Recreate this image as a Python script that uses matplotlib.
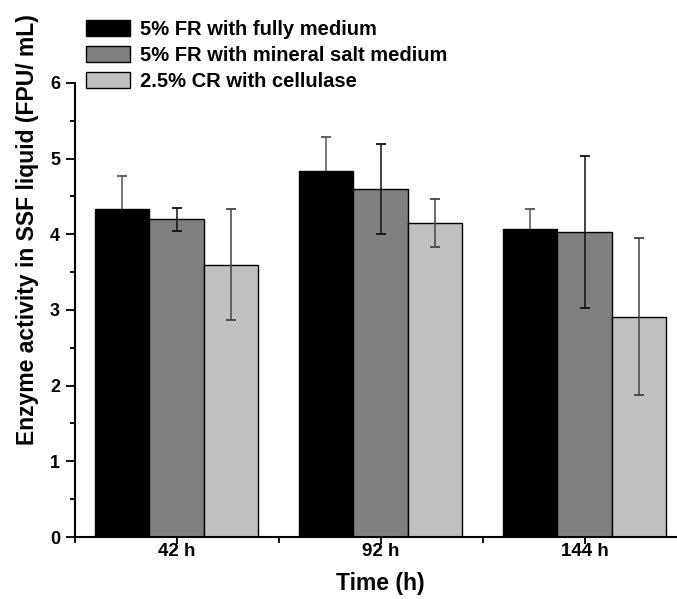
import matplotlib.pyplot as plt
import numpy as np
from matplotlib.ticker import MultipleLocator, FixedLocator

plt.rcParams["font.family"] = ["Liberation Sans", "DejaVu Sans"]
plt.rcParams["font.weight"] = "bold"

times = ["42 h", "92 h", "144 h"]
series = [
    "5% FR with fully medium",
    "5% FR with mineral salt medium",
    "2.5% CR with cellulase",
]
fully_mean = [4.34, 4.83, 4.07]
fully_err = [0.43, 0.46, 0.27]
mineral_mean = [4.20, 4.60, 4.03]
mineral_err = [0.15, 0.60, 1.01]
cellulase_mean = [3.60, 4.15, 2.91]
cellulase_err = [0.73, 0.32, 1.04]

means = [fully_mean, mineral_mean, cellulase_mean]
errs = [fully_err, mineral_err, cellulase_err]
colors = ["#000000", "#808080", "#c0c0c0"]
err_colors = ["#555555", "#111111", "#444444"]
# error bars of the black series sit behind their bars
err_z = [1, 3, 3]

fig = plt.figure(figsize=(6.77, 5.99), dpi=100)
ax = fig.add_axes([0.1103, 0.1035, 0.904, 0.758])

x = np.arange(1, len(times) + 1)
width = 0.8 / 3
for i in range(3):
    pos = x + (i - 1) * width
    ax.bar(pos, means[i], width, color=colors[i], edgecolor="black",
           linewidth=1.0, label=series[i], zorder=2)
    ax.errorbar(pos, means[i], yerr=errs[i], fmt="none", ecolor=err_colors[i],
                elinewidth=1.1, capsize=3.5, capthick=1.3, zorder=err_z[i])

ax.set_xlim(0.5, 3.5)
ax.set_ylim(0, 6)
ax.set_xticks(x)
ax.set_xticklabels(times, fontsize=13.5, fontweight="bold")
ax.xaxis.set_minor_locator(FixedLocator([0.5, 1.5, 2.5, 3.5]))
ax.yaxis.set_major_locator(MultipleLocator(1))
ax.yaxis.set_minor_locator(MultipleLocator(0.5))
for lab in ax.get_yticklabels():
    lab.set_fontsize(13)
    lab.set_fontweight("bold")

ax.tick_params(axis="y", which="major", direction="out", length=6.5,
               width=1.3, pad=4)
ax.tick_params(axis="y", which="minor", direction="out", length=3.6, width=1.3)
ax.tick_params(axis="x", which="major", direction="out", length=5,
               width=1.3, pad=-1)
ax.tick_params(axis="x", which="minor", direction="out", length=4, width=1.3)

for side in ["top", "right"]:
    ax.spines[side].set_visible(False)
for side in ["left", "bottom"]:
    ax.spines[side].set_linewidth(1.5)

ax.set_ylabel("Enzyme activity in SSF liquid (FPU/ mL)", fontsize=16.5,
              fontweight="bold")
ax.yaxis.set_label_coords(-0.058, 0.678)
ax.set_xlabel("Time (h)", fontsize=16.5, fontweight="bold")
ax.xaxis.set_label_coords(0.5, -0.078)

fig.legend(loc="upper left", bbox_to_anchor=(86 / 677, 1 - 20 / 599),
           frameon=False, borderpad=0, borderaxespad=0, handlelength=2.2,
           handleheight=0.85, labelspacing=0.35, handletextpad=0.5,
           prop={"size": 14.5, "weight": "bold"})

fig.savefig("out.png", dpi=100)
